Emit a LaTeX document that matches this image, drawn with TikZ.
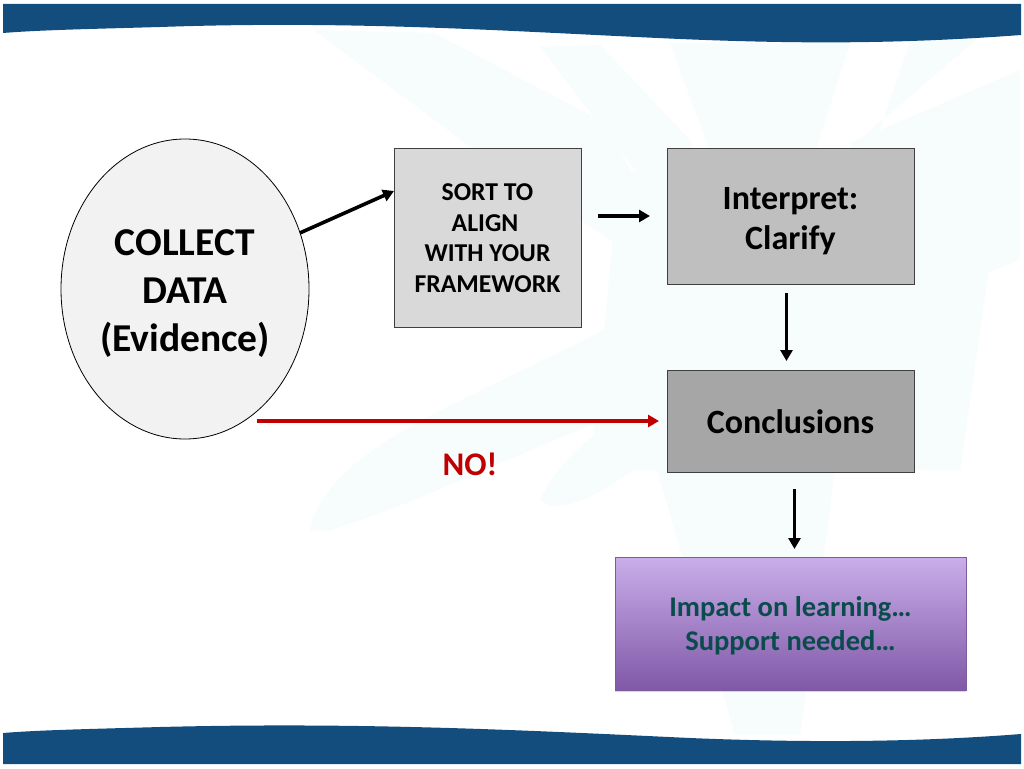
\documentclass[tikz,border=0pt]{standalone}
\usepackage{fontspec}
\setmainfont{Carlito}
\usetikzlibrary{arrows.meta,shapes.geometric,shadows}
\definecolor{bandblue}{HTML}{124D7E}
\definecolor{palecyan}{HTML}{F7FCFD}
\definecolor{nored}{HTML}{C00000}
\definecolor{impactgreen}{HTML}{0A4B4B}
\definecolor{impacttop}{HTML}{C9AEEA}
\definecolor{impactbottom}{HTML}{8058A7}
\definecolor{impactedge}{HTML}{7D5A9E}
\newcommand{\sizedfont}[2]{\fontsize{#1}{#2}\selectfont}
\newcommand{\toppad}[1]{\rule{0pt}{#1pt}}
\tikzset{
	flowbox/.style={draw=black!75, line width=1pt, minimum width=#1, inner sep=0pt, outer sep=0pt, align=center},
	flowarrow/.style={line width=3.6pt, -{Triangle[length=11pt,width=12pt]}},
	noarrow/.style={line width=4pt, color=nored, -{Triangle[length=11pt,width=12pt]}},
	watermark/.style={fill=palecyan, draw=none},
}

\begin{document}
\begin{tikzpicture}[x=1pt, y=-1pt]
	%%%%% START %%%%%
	\useasboundingbox (0, 0) rectangle (1024, 768);
	\fill[white] (0, 0) rectangle (1024, 768);

	% faint figure behind the slide
	\fill[watermark] (314, 30) -- (434, 33) -- (605, 123) -- (700, 300) -- (471, 147) -- cycle;
	\fill[watermark] (540, 47) -- (600, 45) -- (690, 140) -- (720, 280) -- cycle;
	\fill[watermark] (670, 43) -- (850, 43) -- (818, 143) -- (800, 300) -- (707, 143) -- cycle;
	\fill[watermark] (911, 40) -- (976, 40) -- (855, 143) -- (820, 300) -- cycle;
	\fill[watermark] (1020, 70) -- (1020, 260) -- (915, 300) -- (850, 143) -- cycle;
	\fill[watermark] (620, 170) -- (1000, 190) -- (960, 470) -- (590, 470) -- cycle;
	\fill[watermark] (310, 530) .. controls (330, 440) and (480, 400) .. (660, 300) -- (660, 400) .. controls (540, 440) and (430, 500) .. (330, 530) -- cycle;
	\fill[watermark] (540, 500) .. controls (570, 440) and (620, 420) .. (660, 390) -- (660, 450) .. controls (620, 480) and (580, 510) .. (550, 505) -- cycle;
	\fill[watermark] (657, 470) -- (835, 470) -- (800, 735) -- (735, 735) -- cycle;

	% wavy bands
	\fill[bandblue] (3, 4) -- (1021, 4) -- (1021, 35) .. controls (900, 44) and (800, 44) .. (680, 39)
		.. controls (520, 32) and (360, 20) .. (160, 27) .. controls (90, 29) and (40, 30) .. (3, 33) -- cycle;
	\fill[bandblue] (3, 764) -- (1021, 764) -- (1021, 734) .. controls (920, 742) and (810, 743) .. (690, 738)
		.. controls (520, 730) and (360, 722) .. (160, 727) .. controls (90, 729) and (40, 730) .. (3, 733) -- cycle;

	% boxes
	\node[ellipse, draw=black, line width=0.8pt, fill=black!5, minimum width=248, minimum height=300, inner sep=0pt, outer sep=0pt, align=center, font=\bfseries\sizedfont{39.5}{48}] (collect) at (185, 289)
		{\toppad{34}COLLECT\\DATA\\(Evidence)};
	\node[flowbox=187, minimum height=179, fill=black!15, font=\bfseries\sizedfont{25.7}{30.6}] (sortbox) at (487.5, 237.5)
		{\toppad{18}SORT TO\\ALIGN\hspace*{5pt}\null\\WITH YOUR\\FRAMEWORK};
	\node[flowbox=247, minimum height=136, fill=black!25, font=\bfseries\sizedfont{34}{40}] (interpretbox) at (790.5, 216)
		{\toppad{32}Interpret:\\Clarify};
	\node[flowbox=247, minimum height=102, fill=black!35, font=\bfseries\sizedfont{34}{40}] (conclusionsbox) at (790.5, 421)
		{\toppad{25}Conclusions};
	\node[draw=impactedge, line width=0.6pt, minimum width=351, minimum height=133, inner sep=0pt, outer sep=0pt, align=center,
		top color=impacttop, bottom color=impactbottom, font=\bfseries\sizedfont{28.5}{34}, text=impactgreen,
		drop shadow={shadow xshift=0pt, shadow yshift=-2pt, opacity=0.3}] (impactbox) at (790.5, 623.5)
		{\toppad{25}Impact on learning…\\Support needed…};
	\node[font=\bfseries\sizedfont{33}{40}, text=nored] (nolabel) at (470, 464.5) {NO!};

	% connectors
	\coordinate (nostart) at (257, 421);
	\draw[flowarrow] (collect.26) -- ([yshift=46.5pt]sortbox.west);
	\draw[flowarrow, shorten <=17pt, shorten >=17pt] (sortbox.east |- interpretbox.west) -- (interpretbox.west);
	\draw[flowarrow, shorten <=9pt, shorten >=9pt] ([xshift=-4pt]interpretbox.south) -- ([xshift=-4pt]conclusionsbox.north);
	\draw[flowarrow, shorten <=17pt, shorten >=8pt] ([xshift=4pt]conclusionsbox.south) -- ([xshift=4pt]impactbox.north);
	\draw[noarrow, shorten >=8pt] (nostart) -- (conclusionsbox.west);
	%%%%% END %%%%%
\end{tikzpicture}
\end{document}
